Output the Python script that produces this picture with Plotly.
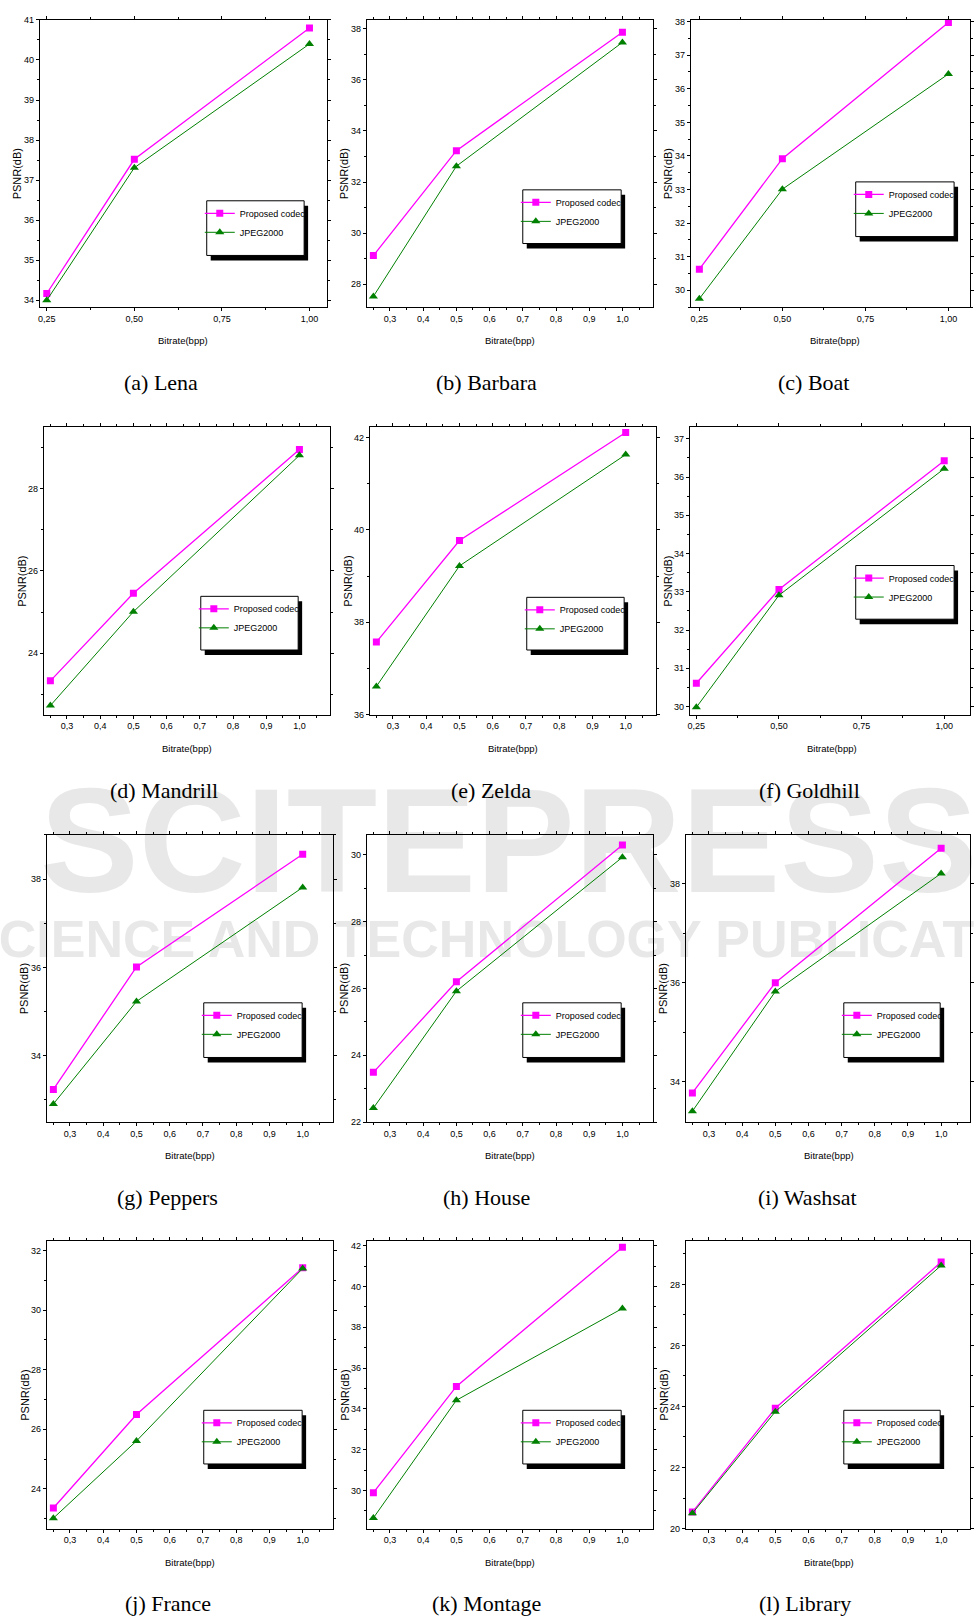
import plotly.graph_objects as go

# ---------------- data ----------------
bitrate = [0.25, 0.5, 1.0]
series_names = ["Proposed codec", "JPEG2000"]
captions = ["(a) Lena", "(b) Barbara", "(c) Boat",
            "(d) Mandrill", "(e) Zelda", "(f) Goldhill",
            "(g) Peppers", "(h) House", "(i) Washsat",
            "(j) France", "(k) Montage", "(l) Library"]

lena_proposed = [34.17, 37.52, 40.80]
lena_jpeg = [34.00, 37.31, 40.40]
barbara_proposed = [29.12, 33.23, 37.87]
barbara_jpeg = [27.52, 32.62, 37.47]
boat_proposed = [30.63, 33.92, 37.97]
boat_jpeg = [29.75, 33.01, 36.44]
mandrill_proposed = [23.33, 25.46, 28.95]
mandrill_jpeg = [22.73, 25.01, 28.81]
zelda_proposed = [37.57, 39.77, 42.11]
zelda_jpeg = [36.61, 39.22, 41.63]
goldhill_proposed = [30.61, 33.06, 36.43]
goldhill_jpeg = [29.98, 32.91, 36.22]
peppers_proposed = [33.24, 36.01, 38.56]
peppers_jpeg = [32.91, 35.23, 37.81]
house_proposed = [23.49, 26.20, 30.30]
house_jpeg = [22.42, 25.92, 29.93]
washsat_proposed = [33.77, 36.00, 38.72]
washsat_jpeg = [33.40, 35.82, 38.21]
france_proposed = [23.36, 26.50, 31.42]
france_jpeg = [23.02, 25.61, 31.40]
montage_proposed = [29.89, 35.10, 41.92]
montage_jpeg = [28.65, 34.42, 38.92]
library_proposed = [20.54, 23.94, 28.73]
library_jpeg = [20.50, 23.83, 28.62]

proposed = [lena_proposed, barbara_proposed, boat_proposed,
            mandrill_proposed, zelda_proposed, goldhill_proposed,
            peppers_proposed, house_proposed, washsat_proposed,
            france_proposed, montage_proposed, library_proposed]
jpeg = [lena_jpeg, barbara_jpeg, boat_jpeg,
        mandrill_jpeg, zelda_jpeg, goldhill_jpeg,
        peppers_jpeg, house_jpeg, washsat_jpeg,
        france_jpeg, montage_jpeg, library_jpeg]

x_title = "Bitrate(bpp)"
y_title = "PSNR(dB)"
watermark_big = "SCITEPRESS"
watermark_small = "SCIENCE AND TECHNOLOGY PUBLICATIONS"

# ---------------- layout (pixels) ----------------
W, H = 974, 1624
# plot area: left, right, top, bottom
panels = [
    (38, 327, 15, 304), (367, 655, 15, 304), (693, 975, 15, 304),
    (42, 330, 425, 714), (370, 658, 425, 714), (692, 975, 425, 714),
    (45, 333, 835, 1124), (367, 655, 835, 1124), (688, 975, 835, 1124),
    (45, 333, 1244, 1533), (367, 655, 1244, 1533), (688, 975, 1244, 1533),
]
x_ranges = [
    (0.230, 1.050), (0.230, 1.092), (0.224, 1.065),
    (0.230, 1.092), (0.230, 1.091), (0.230, 1.078),
    (0.230, 1.091), (0.230, 1.092), (0.230, 1.087),
    (0.230, 1.091), (0.230, 1.092), (0.230, 1.087),
]
y_ranges = [
    (33.83, 41.0), (27.1, 38.35), (29.5, 38.05),
    (22.51, 29.49), (36.0, 42.22), (29.79, 37.3),
    (32.5, 39.0), (22.0, 30.6), (33.18, 38.99),
    (22.67, 32.31), (28.13, 42.21), (20.0, 29.41),
]
y_dticks = [1, 2, 1, 2, 2, 1, 2, 2, 2, 2, 2, 2]
x_quarter = [True, False, True, False, False, True,
             False, False, False, False, False, False]
legend_boxes = [  # left, top, right, bottom
    (206, 197, 304, 252), (524, 186, 623, 240), (859, 178, 958, 233),
    (200, 595, 298, 649), (528, 596, 626, 649), (859, 564, 958, 618),
    (203, 1004, 302, 1059), (524, 1004, 623, 1059), (847, 1004, 944, 1059),
    (203, 1414, 302, 1468), (524, 1414, 623, 1468), (847, 1414, 944, 1468),
]
xtitle_x = [182, 511, 838, 186, 514, 835, 189, 511, 832, 189, 511, 832]
caption_pos = [
    (160, 380), (488, 380), (817, 380),
    (163, 790), (492, 790), (813, 790),
    (167, 1200), (488, 1200), (810, 1200),
    (167, 1608), (488, 1608), (808, 1608),
]

SANS = "Liberation Sans, Arial, sans-serif"
SERIF = "Liberation Serif, Times New Roman, serif"

MAGENTA = "#ff00ff"
GREEN = "#008000"
WM = "#e8e8e8"


def px(x):
    return x / W


def py(y):
    return 1 - y / H


fig = go.Figure()
layout = dict(
    width=W, height=H,
    margin=dict(l=0, r=0, t=0, b=0),
    paper_bgcolor="white", plot_bgcolor="rgba(0,0,0,0)",
    separators=", ",
    showlegend=True,
    shapes=[], annotations=[],
)

# watermark (behind everything)
layout["shapes"].append(dict(
    type="rect", xref="paper", yref="paper", layer="below",
    x0=px(-90), x1=px(1110), y0=py(882), y1=py(772),
    line=dict(width=0), fillcolor="rgba(0,0,0,0)",
    label=dict(text="<b>" + watermark_big + "</b>", textposition="middle center",
               font=dict(family=SANS, size=148, color=WM))))
layout["shapes"].append(dict(
    type="rect", xref="paper", yref="paper", layer="below",
    x0=px(-286), x1=px(1354), y0=py(957), y1=py(913),
    line=dict(width=0), fillcolor="rgba(0,0,0,0)",
    label=dict(text="<b>" + watermark_small + "</b>", textposition="middle center",
               font=dict(family=SANS, size=52, color=WM))))

for i in range(12):
    n = i + 1
    sfx = "" if n == 1 else str(n)
    xa, ya = "x" + sfx, "y" + sfx
    leg = "legend" + sfx
    l, r, t, b = panels[i]

    fig.add_trace(go.Scatter(
        x=bitrate, y=proposed[i], name=series_names[0], mode="lines+markers",
        line=dict(color=MAGENTA, width=1.3),
        marker=dict(symbol="square", size=7, color=MAGENTA),
        xaxis=xa, yaxis=ya, legend=leg))
    fig.add_trace(go.Scatter(
        x=bitrate, y=jpeg[i], name=series_names[1], mode="lines+markers",
        line=dict(color=GREEN, width=1),
        marker=dict(symbol="triangle-up", size=8, color=GREEN),
        xaxis=xa, yaxis=ya, legend=leg))

    if x_quarter[i]:
        xt = dict(tick0=0.25, dtick=0.25, tickformat=".2f",
                  minor=dict(tick0=0.25, dtick=0.125, ticks="outside", ticklen=2, tickcolor="black"))
    else:
        xt = dict(tick0=0.3, dtick=0.1, tickformat=".1f",
                  minor=dict(tick0=0.25, dtick=0.05, ticks="outside", ticklen=2, tickcolor="black"))
    common = dict(showline=True, linecolor="black", linewidth=1, mirror="allticks",
                  ticks="outside", ticklen=3, tickcolor="black", tickwidth=1,
                  showgrid=False, zeroline=False,
                  tickfont=dict(family=SANS, size=9, color="black"))
    layout["xaxis" + sfx] = dict(
        domain=[px(l), min(px(r), 1.0)], range=list(x_ranges[i]),
        anchor=ya, tickmode="linear", **xt, **common)
    layout["yaxis" + sfx] = dict(
        domain=[py(b), py(t)], range=list(y_ranges[i]),
        anchor=xa, tickmode="linear", tick0=0, dtick=y_dticks[i], tickformat="d",
        minor=dict(tick0=0, dtick=y_dticks[i] / 2, ticks="outside", ticklen=2, tickcolor="black"),
        **common)

    # legend box with shadow
    bl, bt, br, bb = legend_boxes[i]
    layout["shapes"].append(dict(type="rect", xref="paper", yref="paper",
                                 x0=px(bl + 4), x1=px(br + 4), y0=py(bb + 5), y1=py(bt + 5),
                                 fillcolor="black", line=dict(width=0)))
    layout["shapes"].append(dict(type="rect", xref="paper", yref="paper",
                                 x0=px(bl), x1=px(br), y0=py(bb), y1=py(bt),
                                 fillcolor="white", line=dict(color="black", width=1)))
    layout[leg] = dict(x=px(bl - 7), y=py(bt - 2), xanchor="left", yanchor="top",
                       bgcolor="rgba(0,0,0,0)", borderwidth=0, tracegroupgap=0,
                       font=dict(family=SANS, size=9, color="black"))

    # axis titles
    layout["annotations"].append(dict(
        text=x_title, xref="paper", yref="paper", x=px(xtitle_x[i]),
        y=py(b + 34), xanchor="center", yanchor="middle", showarrow=False,
        font=dict(family=SANS, size=9.5, color="black")))
    layout["annotations"].append(dict(
        text=y_title, xref="paper", yref="paper", x=px(l - 22), y=py((t + b) / 2 + 10),
        xanchor="center", yanchor="middle", showarrow=False, textangle=-90,
        font=dict(family=SANS, size=11, color="black")))
    # caption
    cx, cy = caption_pos[i]
    layout["annotations"].append(dict(
        text=captions[i], xref="paper", yref="paper", x=px(cx), y=py(cy),
        xanchor="center", yanchor="middle", showarrow=False,
        font=dict(family=SERIF, size=22, color="black")))

fig.update_layout(**layout)
fig.write_html("out.html", config={"displayModeBar": False},
               post_script="document.body.style.margin='0';")
